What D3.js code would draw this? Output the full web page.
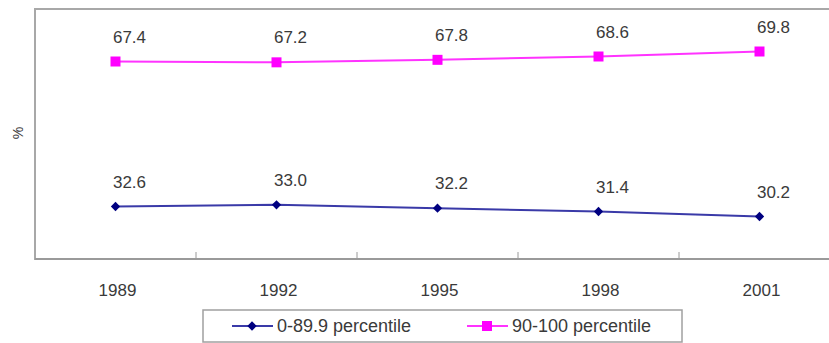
<!DOCTYPE html>
<html>
<head>
<meta charset="utf-8">
<script src="https://cdn.jsdelivr.net/npm/d3@7"></script>
<style>
  html, body { margin: 0; padding: 0; background: #fff; }
  svg { display: block; font-family: "Liberation Sans", Arial, sans-serif; }
</style>
</head>
<body>
<svg id="chart" width="829" height="343"></svg>
<script>
// Survey years on the category axis
const years = ["1989", "1992", "1995", "1998", "2001"];
// Share (%) for each percentile group
const lowGroup = [32.6, 33.0, 32.2, 31.4, 30.2];
const topGroup = [67.4, 67.2, 67.8, 68.6, 69.8];
const seriesNames = ["0-89.9 percentile", "90-100 percentile"];
const yDomain = [20, 80];

const svg = d3.select("#chart");
const plot = { left: 35, right: 840, top: 9, bottom: 259 };

const x = d3.scaleBand().domain(years).range([plot.left, plot.right]).padding(0);
const cx = d => x(d) + x.bandwidth() / 2;
const y = d3.scaleLinear().domain(yDomain).range([plot.bottom, plot.top]);

// Plot frame
svg.append("rect")
  .attr("x", plot.left).attr("y", plot.top)
  .attr("width", plot.right - plot.left).attr("height", plot.bottom - plot.top)
  .attr("fill", "none").attr("stroke", "#a8a8a8").attr("stroke-width", 2);

// Category axis with inward ticks between categories
const xAxis = svg.append("g").attr("transform", `translate(0,${plot.bottom})`);
xAxis.append("line")
  .attr("x1", plot.left).attr("x2", plot.right)
  .attr("stroke", "#9a9a9a").attr("stroke-width", 2);
xAxis.selectAll("line.tick")
  .data(years.slice(1))
  .join("line")
  .attr("class", "tick")
  .attr("x1", d => x(d)).attr("x2", d => x(d))
  .attr("y1", 0).attr("y2", -7)
  .attr("stroke", "#9a9a9a").attr("stroke-width", 1);
xAxis.selectAll("text")
  .data(years)
  .join("text")
  .attr("x", d => cx(d) + 2)
  .attr("y", 37)
  .attr("text-anchor", "middle")
  .attr("font-size", 17)
  .attr("fill", "#3a3a3a")
  .text(d => d);

// Value-axis title
svg.append("text")
  .attr("transform", "translate(23,133) rotate(-90)")
  .attr("text-anchor", "middle")
  .attr("font-size", 14)
  .attr("fill", "#3a3a3a")
  .text("%");

const series = [
  { name: seriesNames[0], values: lowGroup, color: "#000080", line: "#3a3aa8", shape: d3.symbolDiamond2, size: 55 },
  { name: seriesNames[1], values: topGroup, color: "#ff00ff", line: "#ff33ff", shape: d3.symbolSquare, size: 100 }
];

const line = d3.line().x((d, i) => cx(years[i])).y(d => y(d));

series.forEach(s => {
  const g = svg.append("g");
  g.append("path")
    .attr("d", line(s.values))
    .attr("fill", "none")
    .attr("stroke", s.line)
    .attr("stroke-width", 2);
  g.selectAll("path.marker")
    .data(s.values)
    .join("path")
    .attr("class", "marker")
    .attr("d", d3.symbol().type(s.shape).size(s.size))
    .attr("transform", (d, i) => `translate(${cx(years[i])},${y(d)})`)
    .attr("fill", s.color);
  g.selectAll("text")
    .data(s.values)
    .join("text")
    .attr("x", (d, i) => cx(years[i]) + 14)
    .attr("y", d => y(d) - 19)
    .attr("text-anchor", "middle")
    .attr("font-size", 17)
    .attr("fill", "#3a3a3a")
    .text(d => d.toFixed(1));
});

// Legend
const legend = svg.append("g");
legend.append("rect")
  .attr("x", 203).attr("y", 310)
  .attr("width", 479).attr("height", 32)
  .attr("fill", "#fff").attr("stroke", "#a0a0a0").attr("stroke-width", 1.5);
const legendX = [232, 467];
series.forEach((s, i) => {
  const lx = legendX[i];
  legend.append("line")
    .attr("x1", lx).attr("x2", lx + 41)
    .attr("y1", 326).attr("y2", 326)
    .attr("stroke", s.line).attr("stroke-width", 2);
  legend.append("path")
    .attr("d", d3.symbol().type(s.shape).size(s.size))
    .attr("transform", `translate(${lx + 20},326)`)
    .attr("fill", s.color);
  legend.append("text")
    .attr("x", lx + 45)
    .attr("y", 332)
    .attr("font-size", 18)
    .attr("fill", "#3a3a3a")
    .text(s.name);
});
</script>
</body>
</html>
